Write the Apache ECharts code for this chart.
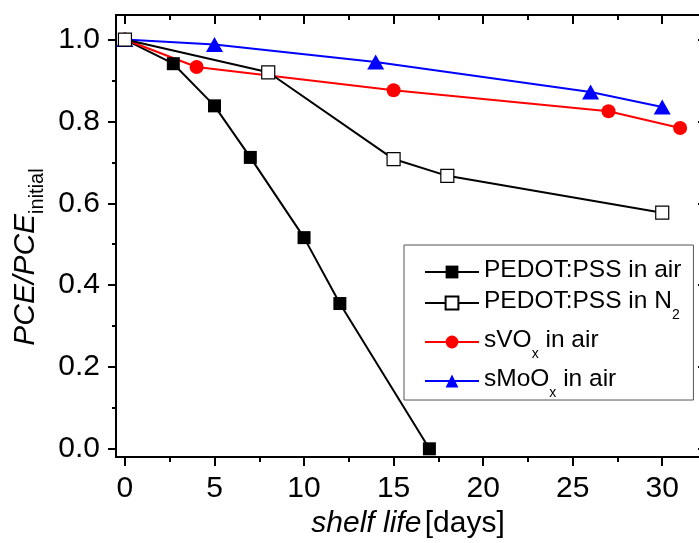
<!DOCTYPE html>
<html>
<head>
<meta charset="utf-8">
<script src="https://cdn.jsdelivr.net/npm/echarts@6/dist/echarts.min.js"></script>
<style>html,body{margin:0;padding:0;background:#fff;}#c{width:699px;height:543px;}</style>
</head>
<body>
<div id="c"></div>
<script>
// ---- data ----
const seriesNames = ['PEDOT:PSS in air', 'PEDOT:PSS in N2', 'sVOx in air', 'sMoOx in air'];
const daysAir  = [0, 2.7, 5, 7, 10, 12, 17];
const pceAir   = [1.0, 0.941, 0.838, 0.712, 0.516, 0.355, 0.0];
const daysN2   = [0, 8, 15, 18, 30];
const pceN2    = [1.0, 0.92, 0.708, 0.667, 0.577];
const daysVOx  = [0, 4, 15, 27, 31];
const pceVOx   = [1.0, 0.933, 0.876, 0.825, 0.784];
const daysMoOx = [0, 5, 14, 26, 30];
const pceMoOx  = [1.0, 0.988, 0.945, 0.872, 0.835];
const xTicks = [0, 5, 10, 15, 20, 25, 30];
const xMinorTicks = [2.5, 7.5, 12.5, 17.5, 22.5, 27.5, 32.5];
const yTicks = [0, 0.2, 0.4, 0.6, 0.8, 1.0];
const yMinorTicks = [0.1, 0.3, 0.5, 0.7, 0.9];
const xRange = [-0.5, 32.5];
const yRange = [-0.02, 1.06];

const FONT = "'Liberation Sans', Arial, sans-serif";
const pair = (xs, ys) => xs.map((x, i) => [x, ys[i]]);
const gridBox = { left: 116, top: 15, right: -8, bottom: 86, outerBoundsMode: 'none', containLabel: false };

function xAx(grid, pos, ticks, len, inside, labels, extra) {
  return Object.assign({
    type: 'value', gridIndex: grid, position: pos, min: xRange[0], max: xRange[1],
    axisLine: { show: grid === 0, onZero: false, lineStyle: { color: '#000', width: 2 } },
    axisTick: { show: true, inside: inside, length: len, customValues: ticks, lineStyle: { color: '#000', width: 2 } },
    axisLabel: labels ? { show: true, customValues: ticks, margin: 17, color: '#000', fontSize: 30, fontFamily: FONT } : { show: false },
    splitLine: { show: false }
  }, extra || {});
}
function yAx(grid, pos, ticks, len, inside, labels, extra) {
  return Object.assign({
    type: 'value', gridIndex: grid, position: pos, min: yRange[0], max: yRange[1],
    axisLine: { show: grid === 0, onZero: false, lineStyle: { color: '#000', width: 2 } },
    axisTick: { show: true, inside: inside, length: len, customValues: ticks, lineStyle: { color: '#000', width: 2 } },
    axisLabel: labels ? { show: true, customValues: ticks, margin: 16, color: '#000', fontSize: 30, fontFamily: FONT,
      formatter: v => v.toFixed(1) } : { show: false },
    splitLine: { show: false }
  }, extra || {});
}

const xName = {
  name: '{i|shelf life} {n|[days]}', nameLocation: 'middle', nameGap: 52,
  nameTextStyle: { padding: [0, 7, 0, 0], rich: {
    i: { fontSize: 30, fontStyle: 'italic', fontFamily: FONT, color: '#000' },
    n: { fontSize: 30, fontFamily: FONT, color: '#000' } } }
};
const yName = {
  name: '{m|PCE/PCE}{s|initial}', nameLocation: 'middle', nameRotate: 90, nameGap: 68,
  nameTextStyle: { padding: [0, 42, 0, 0], rich: {
    m: { fontSize: 30, fontStyle: 'italic', fontFamily: FONT, color: '#000', lineHeight: 30, verticalAlign: 'top' },
    s: { fontSize: 20, fontFamily: FONT, color: '#000', lineHeight: 20, verticalAlign: 'top', padding: [17, 0, 0, 0] } } }
};

const legendLabels = {
  'PEDOT:PSS in air': '{m|PEDOT:PSS in air}',
  'PEDOT:PSS in N2': '{m|PEDOT:PSS in N}{s|2}',
  'sVOx in air': '{m|sVO}{s|x}{m| in air}',
  'sMoOx in air': '{m|sMoO}{s|x}{m| in air}'
};

const option = {
  animation: false,
  backgroundColor: '#fff',
  grid: [Object.assign({}, gridBox), Object.assign({}, gridBox)],
  xAxis: [
    xAx(0, 'bottom', xTicks, 9, false, true, xName),
    xAx(0, 'top', xTicks, 9, true, false),
    xAx(1, 'bottom', xMinorTicks, 5, false, false),
    xAx(1, 'top', xMinorTicks, 5, true, false)
  ],
  yAxis: [
    yAx(0, 'left', yTicks, 8, false, true, yName),
    yAx(0, 'right', yTicks, 9, true, false),
    yAx(1, 'left', yMinorTicks, 4, false, false),
    yAx(1, 'right', yMinorTicks, 5, true, false)
  ],
  legend: {
    orient: 'vertical', left: 404, top: 245,
    padding: [13, 12, 0, 20], itemGap: 6,
    itemWidth: 54, itemHeight: 16,
    borderColor: '#555', borderWidth: 1, selectedMode: false,
    data: seriesNames,
    formatter: name => legendLabels[name],
    textStyle: { color: '#000', fontFamily: FONT, rich: {
      m: { fontSize: 24.5, fontFamily: FONT, color: '#000', lineHeight: 28, verticalAlign: 'top' },
      s: { fontSize: 14, fontFamily: FONT, color: '#000', lineHeight: 14, verticalAlign: 'top', padding: [19, 0, 0, 0] } } }
  },
  series: [
    { name: seriesNames[0], type: 'line', xAxisIndex: 0, yAxisIndex: 0, data: pair(daysAir, pceAir),
      symbol: 'rect', symbolSize: 13, lineStyle: { color: '#000', width: 2 },
      itemStyle: { color: '#000' } },
    { name: seriesNames[2], type: 'line', xAxisIndex: 0, yAxisIndex: 0, data: pair(daysVOx, pceVOx),
      symbol: 'circle', symbolSize: 14, lineStyle: { color: '#ff0000', width: 2 },
      itemStyle: { color: '#ff0000' } },
    { name: seriesNames[3], type: 'line', xAxisIndex: 0, yAxisIndex: 0, data: pair(daysMoOx, pceMoOx),
      symbol: 'triangle', symbolSize: [17, 15], lineStyle: { color: '#0000ff', width: 2 },
      itemStyle: { color: '#0000ff' } },
    { name: seriesNames[1], type: 'line', xAxisIndex: 0, yAxisIndex: 0, data: pair(daysN2, pceN2),
      symbol: 'rect', symbolSize: 13, lineStyle: { color: '#000', width: 2 },
      itemStyle: { color: '#fff', borderColor: '#000', borderWidth: 1.2 } }
  ]
};

const chart = echarts.init(document.getElementById('c'), null, { renderer: 'canvas' });
chart.setOption(option);
</script>
</body>
</html>
